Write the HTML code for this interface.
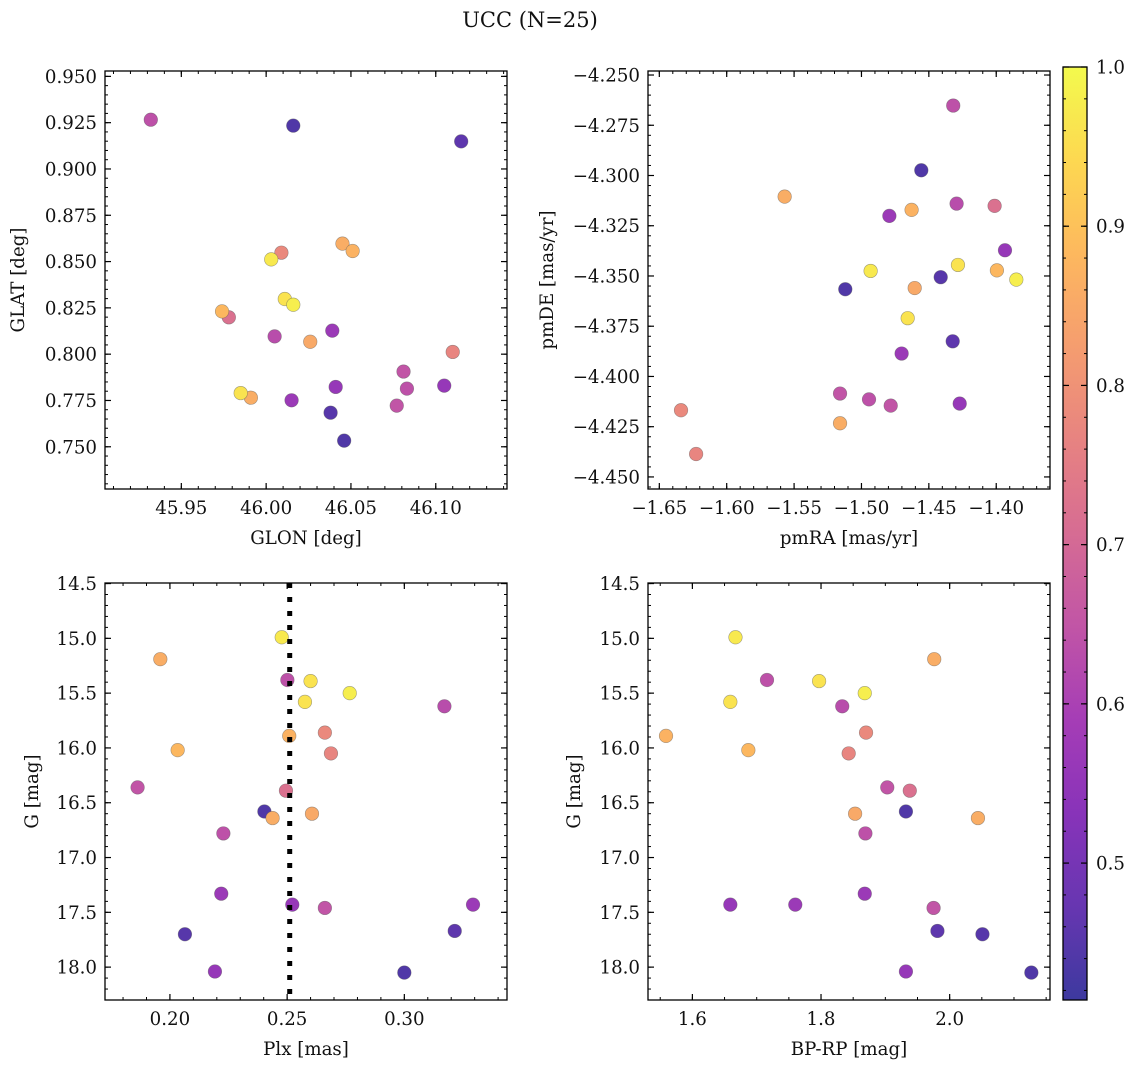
<!DOCTYPE html>
<html><head><meta charset="utf-8"><style>
html,body{margin:0;padding:0;background:#fff}
svg{display:block}
text{font-family:"DejaVu Serif","Liberation Serif",serif;fill:#111}
</style></head><body>
<svg id="fig" width="1136" height="1067" viewBox="0 0 1136 1067" xmlns="http://www.w3.org/2000/svg">
<text x="530" y="27" font-size="21" text-anchor="middle">UCC (N=25)</text>
</svg>
<script>
// data per star
const glon = [46.003,46.011,46.016,45.985, 46.045,46.051,45.974,46.026,45.991, 46.009,46.110,45.978, 45.932,46.005,46.081,46.083,46.077, 46.039,46.105,46.015,46.041, 46.016,46.115,46.038,46.046];
const glat = [0.8512,0.8298,0.8267,0.7790, 0.8597,0.8557,0.8231,0.8067,0.7765, 0.8548,0.8012,0.8199, 0.9266,0.8096,0.7906,0.7814,0.7722, 0.8127,0.7830,0.7751,0.7823, 0.9234,0.9149,0.7684,0.7533];
const pmra = [-1.4932,-1.4284,-1.3851,-1.4657, -1.5570,-1.4628,-1.3995,-1.4605,-1.5159, -1.6339,-1.6227,-1.4012, -1.4319,-1.4294,-1.5159,-1.4944,-1.4783, -1.4793,-1.3935,-1.4702,-1.4271, -1.4556,-1.4323,-1.4412,-1.5120];
const pmde = [-4.3475,-4.3445,-4.3518,-4.3710, -4.3105,-4.3171,-4.3472,-4.3560,-4.4233, -4.4168,-4.4386,-4.3151, -4.2652,-4.3140,-4.4085,-4.4114,-4.4145, -4.3201,-4.3372,-4.3886,-4.4135, -4.2974,-4.3825,-4.3506,-4.3566];
const plx = [0.2477,0.2600,0.2767,0.2576, 0.1959,0.2509,0.2033,0.2606,0.2438, 0.2661,0.2687,0.2495, 0.2501,0.3171,0.1862,0.2228,0.2661, 0.2219,0.2522,0.3293,0.2192, 0.2403,0.3215,0.2064,0.3000];
const gmag = [14.99,15.39,15.50,15.58, 15.19,15.89,16.02,16.60,16.64, 15.86,16.05,16.39, 15.38,15.62,16.36,16.78,17.46, 17.33,17.43,17.43,18.04, 16.58,17.67,17.70,18.05];
const bprp = [1.667,1.797,1.868,1.659, 1.976,1.559,1.687,1.853,2.044, 1.870,1.843,1.938, 1.716,1.833,1.903,1.869,1.975, 1.868,1.659,1.760,1.932, 1.932,1.981,2.051,2.127];
const prob = [0.97,0.96,0.98,0.96, 0.86,0.87,0.88,0.85,0.86, 0.78,0.77,0.72, 0.64,0.63,0.65,0.64,0.65, 0.57,0.56,0.57,0.56, 0.44,0.46,0.45,0.44];
const plxMean = [0.2511];
const cbarTicks = [0.5,0.6,0.7,0.8,0.9,1.0];

const NS="http://www.w3.org/2000/svg";
const svg=document.getElementById('fig');
const FS=18.2;
function mk(tag,attrs,parent){const e=document.createElementNS(NS,tag);for(const k in attrs)e.setAttribute(k,attrs[k]);(parent||svg).appendChild(e);return e;}
const stops=[[13,8,135],[65,4,157],[106,0,168],[143,13,164],[177,42,144],[204,71,120],[225,100,98],[242,132,75],[252,166,54],[252,206,37],[240,249,33]];
function plasma(t){t=Math.max(0,Math.min(1,t));const f=t*10,i=Math.min(9,Math.floor(f)),u=f-i;const a=stops[i],b=stops[i+1];
 const c=[0,1,2].map(k=>Math.round((a[k]+(b[k]-a[k])*u)*0.8+255*0.2));return `rgb(${c[0]},${c[1]},${c[2]})`;}
const vmin=0.414,vmax=1.0;
function fmt(v,d){const s=Math.abs(v).toFixed(d);return (v<-1e-9?'\u2212':'')+s;}

function axes(o){
 const {x0,y0,w,h,xr,yr,xmaj,xmin,ymaj,ymin,xd,yd,xlab,ylab,name,invY}=o;
 const g=mk('g',{});
 
 
 const X=v=>x0+(v-xr[0])/(xr[1]-xr[0])*w;
 const Y=invY?(v=>y0+(v-yr[0])/(yr[1]-yr[0])*h):(v=>y0+h-(v-yr[0])/(yr[1]-yr[0])*h);
 const ticks=(lo,hi,st)=>{const r=[];for(let v=Math.ceil(lo/st-1e-6)*st;v<=hi+1e-9;v+=st)r.push(+v.toFixed(6));return r;};
 const xl=mk('g',{},g);
 ticks(xr[0],xr[1],xmin).forEach(v=>{const x=X(v);mk('line',{x1:x,x2:x,y1:y0+h,y2:y0+h-3,stroke:'#000','stroke-width':1},xl);mk('line',{x1:x,x2:x,y1:y0,y2:y0+3,stroke:'#000','stroke-width':1},xl);});
 ticks(xr[0],xr[1],xmaj).forEach(v=>{const x=X(v);mk('line',{x1:x,x2:x,y1:y0+h,y2:y0+h-6,stroke:'#000','stroke-width':1.2},xl);mk('line',{x1:x,x2:x,y1:y0,y2:y0+6,stroke:'#000','stroke-width':1.2},xl);
  const t=mk('text',{x:x,y:y0+h+25,'font-size':FS,'text-anchor':'middle'},xl);t.textContent=fmt(v,xd);});
 const yl=mk('g',{},g);
 const ylo=Math.min(yr[0],yr[1]),yhi=Math.max(yr[0],yr[1]);
 ticks(ylo,yhi,ymin).forEach(v=>{const y=Y(v);mk('line',{x1:x0,x2:x0+3,y1:y,y2:y,stroke:'#000','stroke-width':1},yl);mk('line',{x1:x0+w,x2:x0+w-3,y1:y,y2:y,stroke:'#000','stroke-width':1},yl);});
 ticks(ylo,yhi,ymaj).forEach(v=>{const y=Y(v);mk('line',{x1:x0,x2:x0+6,y1:y,y2:y,stroke:'#000','stroke-width':1.2},yl);mk('line',{x1:x0+w,x2:x0+w-6,y1:y,y2:y,stroke:'#000','stroke-width':1.2},yl);
  const t=mk('text',{x:x0-8,y:y+6.5,'font-size':FS,'text-anchor':'end'},yl);t.textContent=fmt(v,yd);});
 const xt=mk('text',{x:x0+w/2,y:y0+h+55,'font-size':FS,'text-anchor':'middle'},g);xt.textContent=xlab;
 
 const yt=mk('text',{x:0,y:0,'font-size':FS,'text-anchor':'middle',transform:`translate(${o.ylx},${y0+h/2}) rotate(-90)`},g);yt.textContent=ylab;
 
 return {g,X,Y,x0,y0,w,h};
}
function scatter(ax,xs,ys,name){
 const cg=mk('g',{},ax.g);
 const idx=prob.map((p,i)=>i).sort((a,b)=>prob[a]-prob[b]);
 idx.forEach(i=>{const c=mk('circle',{cx:ax.X(xs[i]),cy:ax.Y(ys[i]),r:6.8,fill:plasma((prob[i]-vmin)/(vmax-vmin)),stroke:'rgba(90,90,90,0.55)','stroke-width':0.6},cg);
  
  });
}
function frame(ax,name){const r=mk('rect',{x:ax.x0,y:ax.y0,width:ax.w,height:ax.h,fill:'none',stroke:'#000','stroke-width':1.3},ax.g);
 }

const a1=axes({x0:105,y0:71,w:402,h:418,xr:[45.905,46.142],yr:[0.7272,0.9529],xmaj:0.05,xmin:0.01,ymaj:0.025,ymin:0.005,xd:2,yd:3,xlab:'GLON [deg]',ylab:'GLAT [deg]',ylx:24,name:'glon-glat-panel'});
scatter(a1,glon,glat,'glon-glat');frame(a1,'glon-glat-panel');
const a2=axes({x0:648,y0:71,w:402,h:418,xr:[-1.6584,-1.3601],yr:[-4.456,-4.248],xmaj:0.05,xmin:0.01,ymaj:0.025,ymin:0.005,xd:2,yd:3,xlab:'pmRA [mas/yr]',ylab:'pmDE [mas/yr]',ylx:553,name:'pm-panel'});
scatter(a2,pmra,pmde,'pm');frame(a2,'pm-panel');
const a3=axes({x0:105,y0:583,w:402,h:417,xr:[0.1723,0.3438],yr:[14.495,18.30],invY:true,xmaj:0.05,xmin:0.01,ymaj:0.5,ymin:0.1,xd:2,yd:1,xlab:'Plx [mas]',ylab:'G [mag]',ylx:38,name:'plx-g-panel'});
scatter(a3,plx,gmag,'plx-g');
const ml=mk('line',{x1:a3.X(plxMean[0]),x2:a3.X(plxMean[0]),y1:583,y2:1000,stroke:'#000','stroke-width':5,'stroke-dasharray':'5 9'},a3.g);

frame(a3,'plx-g-panel');
const a4=axes({x0:648,y0:583,w:402,h:417,xr:[1.531,2.156],yr:[14.495,18.30],invY:true,xmaj:0.2,xmin:0.05,ymaj:0.5,ymin:0.1,xd:1,yd:1,xlab:'BP-RP [mag]',ylab:'G [mag]',ylx:580,name:'cmd-panel'});
scatter(a4,bprp,gmag,'cmd');frame(a4,'cmd-panel');

// colorbar
const cb=mk('g',{});
const cx=1063,cw=24,ct=67,cbot=1000;
const defs=mk('defs',{},cb);const lg=mk('linearGradient',{id:'cbg',x1:0,y1:1,x2:0,y2:0},defs);
for(let k=0;k<=20;k++){const t=k/20;mk('stop',{offset:t,'stop-color':plasma(t)},lg);}
mk('rect',{x:cx,y:ct,width:cw,height:cbot-ct,fill:'url(#cbg)',stroke:'#000','stroke-width':1.3},cb);
const CY=v=>cbot-(v-vmin)/(vmax-vmin)*(cbot-ct);
for(let v=0.42;v<=1.0001;v+=0.02){const y=CY(v);mk('line',{x1:cx+cw,x2:cx+cw-3,y1:y,y2:y,stroke:'#000','stroke-width':1},cb);mk('line',{x1:cx,x2:cx+3,y1:y,y2:y,stroke:'#000','stroke-width':1},cb);}
cbarTicks.forEach(v=>{const y=CY(v);mk('line',{x1:cx+cw,x2:cx+cw-6,y1:y,y2:y,stroke:'#000','stroke-width':1.2},cb);mk('line',{x1:cx,x2:cx+6,y1:y,y2:y,stroke:'#000','stroke-width':1.2},cb);
 const t=mk('text',{x:cx+cw+9,y:y+6.5,'font-size':FS},cb);t.textContent=v.toFixed(1);});
</script>
</body></html>
